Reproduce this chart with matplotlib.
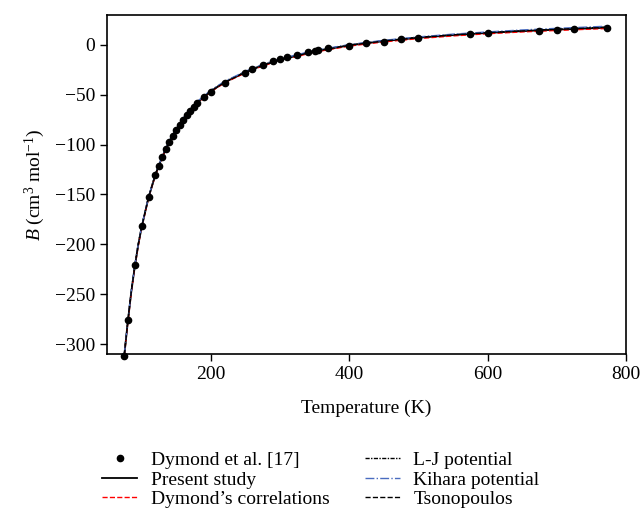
import numpy as np
import matplotlib.pyplot as plt

plt.rcParams['font.family'] = ['Liberation Serif', 'DejaVu Serif']
plt.rcParams['mathtext.fontset'] = 'custom'
plt.rcParams['mathtext.rm'] = 'Liberation Serif'
plt.rcParams['mathtext.it'] = 'Liberation Serif:italic'
plt.rcParams['font.size'] = 14

# Dades experimentals (Dymond et al. [17])
T_exp = [75, 80, 90, 100, 110, 120, 125, 130, 135, 140, 145, 150, 155, 160,
         165, 170, 175, 180, 190, 200, 220, 250, 260, 275, 290, 300, 310, 325,
         340, 350, 355, 370, 400, 425, 450, 475, 500, 575, 600, 675, 700, 725, 773]
B_exp = [-312, -276, -221, -182, -153, -130, -121, -112, -104, -97, -91, -85, -80, -75,
         -70, -66, -62, -58, -52, -47, -38, -28, -24, -20, -16, -14, -12, -10,
         -7.5, -6, -5.5, -3.5, -0.8, 1.7, 3.4, 5.5, 7.0, 10.5, 12, 13.5, 14.5, 15.5, 17]

# Corbes calculades
T_fit = [75, 80, 85, 90, 95, 100, 110, 120, 130, 140, 150, 160, 170, 180, 200, 220,
         250, 275, 300, 350, 400, 450, 500, 550, 600, 650, 700, 775]
B_present = [-311, -278, -248, -223, -201, -183, -153, -130, -112, -97, -85, -74.5, -65.5,
             -58, -46.5, -37.5, -27.5, -20.5, -15, -6.5, -0.5, 3.8, 7.2, 9.8, 12, 13.8, 15.3, 17.3]
B_dymond = [-312, -279, -249, -224, -202, -183.5, -153.5, -130.5, -112.5, -97.5, -85.5, -75,
            -66, -58.5, -47, -38, -28, -21, -15.8, -7.2, -1.2, 3.0, 6.3, 9.0, 11.2, 13, 14.5, 16.5]
B_lj = [-310, -277, -247, -222, -200, -182, -152.5, -129.5, -111.5, -96.5, -84.5, -74, -65,
        -57.5, -46, -37, -27, -20, -14.6, -6, 0, 4.2, 7.6, 10.2, 12.4, 14.2, 15.8, 18]
B_kihara = [-310.5, -277.5, -247.5, -222.5, -200.5, -182.5, -152.5, -129.5, -111, -96,
            -84, -73.5, -64.5, -57, -45.5, -36.5, -26.5, -19.5, -14, -5.6, 0.3, 4.6, 8.0,
            10.8, 13, 15, 16.6, 18.8]
B_tsono = [-311, -278, -248, -223, -201, -183, -153, -130, -112, -97, -85, -74.5, -65.5,
           -58, -46.5, -37.5, -27.5, -20.5, -15, -6.5, -0.4, 3.9, 7.3, 10, 12.2, 14, 15.6, 17.6]

fig = plt.figure(figsize=(6.42, 5.08), dpi=100)
ax = fig.add_axes([0.1667, 0.3031, 0.8083, 0.6674])

ax.plot(T_exp, B_exp, 'o', color='black', markersize=4.5, clip_on=False,
        label='Dymond et al. [17]', zorder=5)
ax.plot(T_fit, B_present, '-', color='black', lw=1.3, label='Present study')
ax.plot(T_fit, B_dymond, '--', color='red', lw=1.0, label='Dymond’s correlations')
ax.plot(T_fit, B_lj, color='black', lw=1.0, ls=(0, (3, 1, 1, 1)), label='L-J potential')
ax.plot(T_fit, B_kihara, color='#4a6cc0', lw=1.0, ls='-.', label='Kihara potential')
ax.plot(T_fit, B_tsono, '--', color='black', lw=1.0, label='Tsonopoulos')

ax.set_xlim(50, 800)
ax.set_ylim(-310, 30)
ax.set_xticks([200, 400, 600, 800])
ax.set_yticks([0, -50, -100, -150, -200, -250, -300])
ax.set_xlabel('Temperature (K)', labelpad=12)
ax.set_ylabel(r'$B$ (cm$^3$ mol$^{-1}$)', labelpad=6)
ax.tick_params(direction='out', length=5, width=1, labelsize=14)
for s in ax.spines.values():
    s.set_linewidth(1.2)

fig.legend(loc='lower center', bbox_to_anchor=(0.5, -0.035), ncol=2, frameon=False,
           fontsize=14, labelspacing=0.1, columnspacing=1.8, handlelength=1.8,
           handletextpad=0.7)

fig.savefig('out.png', dpi=100)
